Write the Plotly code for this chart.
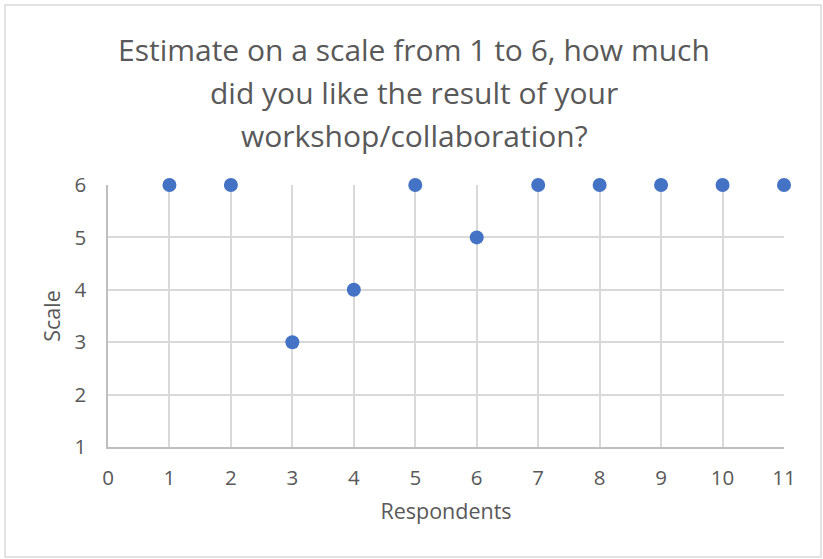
import plotly.graph_objects as go

# Survey responses: respondent number and the rating they gave (1-6)
respondents = [1, 2, 3, 4, 5, 6, 7, 8, 9, 10, 11]
ratings = [6, 6, 3, 4, 6, 5, 6, 6, 6, 6, 6]

x_ticks = list(range(0, 12))
y_ticks = list(range(1, 7))

title_lines = [
    "Estimate on a scale from 1 to 6, how much",
    "did you like the result of your",
    "workshop/collaboration?",
]

FONT = "Open Sans, sans-serif"
TEXT = "#595959"
GRID = "#d9d9d9"
AXIS = "#bfbfbf"

fig = go.Figure()
fig.add_trace(go.Scatter(
    x=respondents,
    y=ratings,
    mode="markers",
    marker=dict(size=14, color="#4472C4"),
    cliponaxis=False,
    showlegend=False,
))

fig.update_layout(
    width=823,
    height=559,
    margin=dict(l=108, r=39, t=185, b=112),
    paper_bgcolor="white",
    plot_bgcolor="white",
    font=dict(family=FONT, color=TEXT),
    xaxis=dict(
        range=[0, 11],
        tickvals=x_ticks,
        ticktext=[str(v) for v in x_ticks],
        showgrid=True, gridcolor=GRID, gridwidth=1.5,
        showline=True, linecolor=AXIS, linewidth=1.5,
        zeroline=False,
        ticks="", ticklabelstandoff=12,
        tickfont=dict(size=20.5, color=TEXT),
        title=dict(text="Respondents", font=dict(size=21.5, color=TEXT), standoff=14),
    ),
    yaxis=dict(
        range=[1, 6],
        tickvals=y_ticks,
        ticktext=[str(v) for v in y_ticks],
        showgrid=True, gridcolor=GRID, gridwidth=1.5,
        showline=True, linecolor=AXIS, linewidth=1.5,
        zeroline=False,
        ticks="", ticklabelstandoff=16,
        tickfont=dict(size=20.5, color=TEXT),
        title=dict(text="Scale", font=dict(size=21.5, color=TEXT), standoff=8),
    ),
)

# Three-line chart title with wide line spacing
for i, line in enumerate(title_lines):
    fig.add_annotation(
        text=line, xref="paper", yref="paper",
        x=(414 - 108) / (823 - 108 - 39), y=1,
        xanchor="center", yanchor="middle",
        yshift=(185 - 49) - i * 43,
        showarrow=False,
        font=dict(size=30, color=TEXT, family=FONT),
    )

# Chart frame
fig.add_shape(
    type="rect", xref="paper", yref="paper",
    x0=(5 - 108) / 676, x1=(821 - 108) / 676,
    y0=-(557 - 447) / 262, y1=1 + (185 - 5) / 262,
    line=dict(color="#d9d9d9", width=1.5),
)

fig.write_html("out.html")
